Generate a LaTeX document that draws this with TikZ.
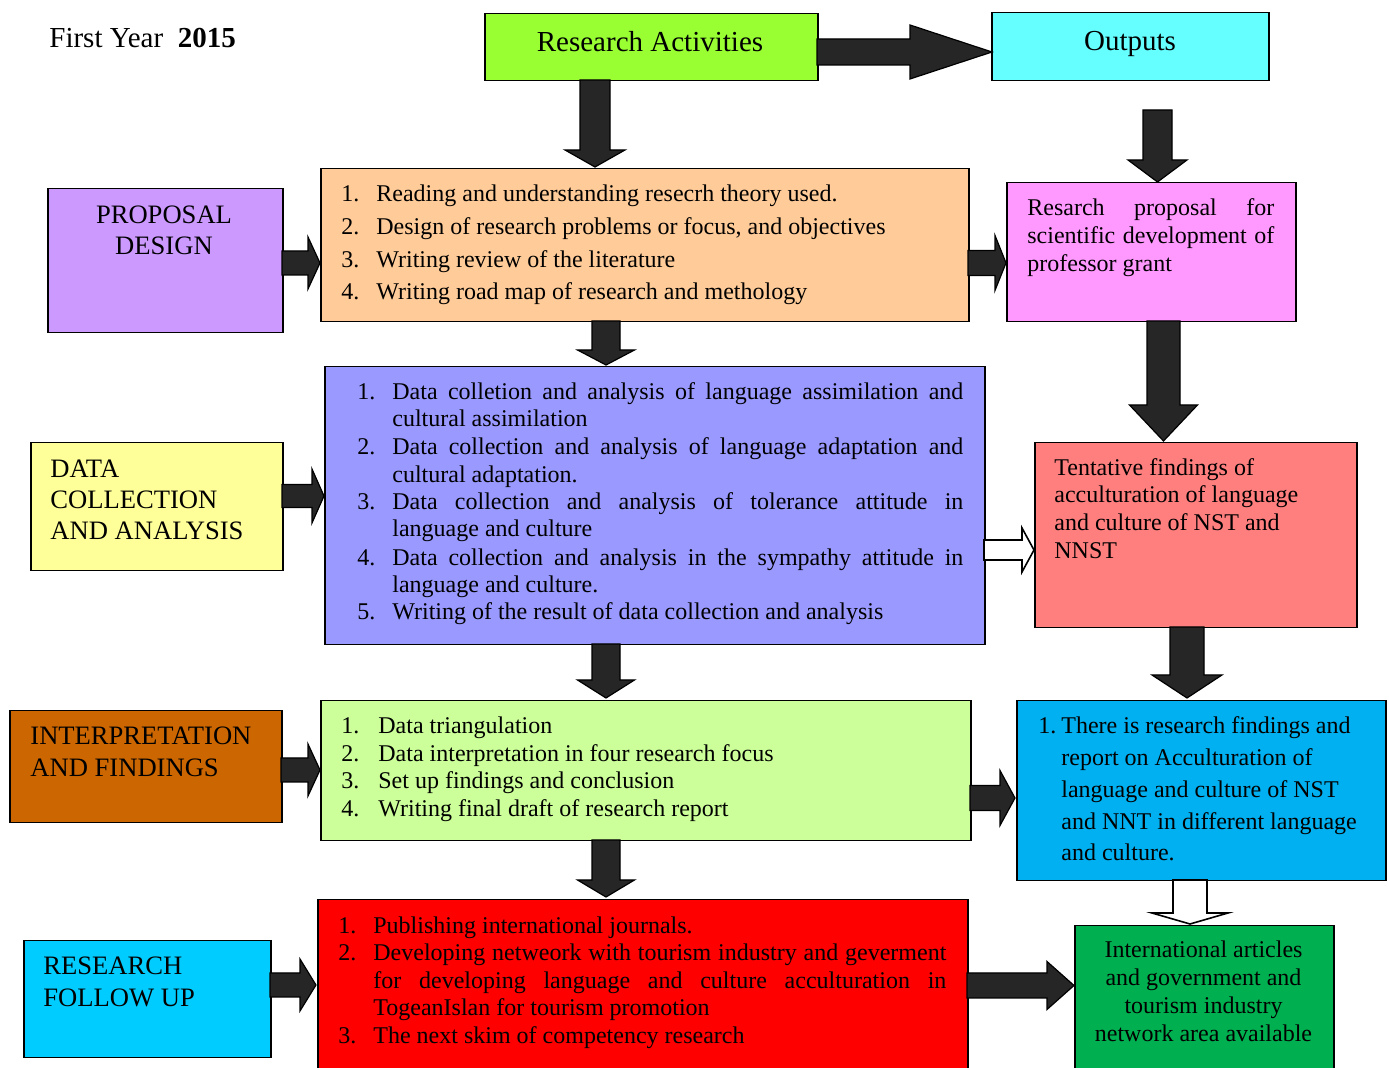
\documentclass[tikz,border=0pt]{standalone}
\usepackage{fontspec}
\setmainfont{Liberation Serif}
\definecolor{cRA}{RGB}{153,255,51}
\definecolor{cOut}{RGB}{102,255,255}
\definecolor{cProp}{RGB}{255,204,153}
\definecolor{cPD}{RGB}{204,153,255}
\definecolor{cPink}{RGB}{255,153,255}
\definecolor{cData}{RGB}{153,153,255}
\definecolor{cYel}{RGB}{255,255,153}
\definecolor{cTent}{RGB}{255,127,127}
\definecolor{cInt}{RGB}{204,255,153}
\definecolor{cOra}{RGB}{204,102,0}
\definecolor{cBlue}{RGB}{0,176,240}
\definecolor{cRed}{RGB}{255,0,0}
\definecolor{cFol}{RGB}{0,204,255}
\definecolor{cGreen}{RGB}{0,176,80}
\definecolor{arrowgray}{RGB}{38,38,38}
\tikzset{
  box/.style={draw=black, line width=0.75pt, inner sep=0pt, anchor=north west},
  txt/.style={anchor=base west, inner sep=0pt, font=\fontsize{12}{14}\selectfont},
  ctxt/.style={anchor=base, inner sep=0pt, font=\fontsize{12}{14}\selectfont},
  ttl/.style={anchor=base, inner sep=0pt, font=\fontsize{14.5}{17}\selectfont},
  side/.style={anchor=base west, inner sep=0pt, font=\fontsize{13.3}{16}\selectfont},
  blk/.style={fill=arrowgray, draw=black, line width=0.6pt, line join=miter},
  wht/.style={fill=white, draw=black, line width=0.8pt, line join=miter}
}
\newcommand{\bx}[6]{\node[box, fill=#2, minimum width={(#5-#3)*0.5pt}, minimum height={(#6-#4)*0.5pt}] (#1) at (#3,#4) {};}
\newcommand{\harr}[7]{\draw[#1] (#2,{#4-#5}) -- (#7,{#4-#5}) -- (#7,{#4-#6}) -- (#3,#4) -- (#7,{#4+#6}) -- (#7,{#4+#5}) -- (#2,{#4+#5}) -- cycle;}
\newcommand{\varr}[7]{\draw[#1] ({#2-#5},#3) -- ({#2-#5},#7) -- ({#2-#6},#7) -- (#2,#4) -- ({#2+#6},#7) -- ({#2+#5},#7) -- ({#2+#5},#3) -- cycle;}
\newcommand{\jl}[2]{\makebox[#1][s]{#2}}
\begin{document}
\begin{tikzpicture}[x=0.5pt,y=-0.5pt]
\useasboundingbox[fill=white] (0,0) rectangle (1389,1068);
% boxes
\bx{ra}{cRA}{484}{13}{817}{80}
\bx{out}{cOut}{991}{12}{1268}{80}
\bx{prop}{cProp}{320}{168}{968}{321}
\bx{pd}{cPD}{47}{188}{282}{332}
\bx{pink}{cPink}{1006}{182}{1295}{321}
\bx{data}{cData}{324}{366}{984}{644}
\bx{dc}{cYel}{30}{442}{282}{570}
\bx{tent}{cTent}{1034}{442}{1356}{627}
\bx{interp}{cInt}{320}{700}{970}{840}
\bx{inf}{cOra}{9}{710}{281}{822}
\bx{blue}{cBlue}{1016}{700}{1385}{880}
\bx{red}{cRed}{317}{899}{967}{1074}
\bx{fol}{cFol}{23}{940}{270}{1057}
\bx{green}{cGreen}{1074}{925}{1333}{1074}
% arrows
\harr{blk}{817}{992}{52}{13}{27}{910}
\varr{blk}{595}{80}{167}{15}{30}{150}
\varr{blk}{1157.5}{110}{182}{14.5}{29.5}{160}
\harr{blk}{282}{320}{263}{12}{26}{308}
\harr{blk}{968}{1006}{263}{12.5}{27.5}{995}
\varr{blk}{1163.5}{321}{441}{16.5}{34}{405}
\varr{blk}{606}{321}{365}{14}{28.5}{350}
\harr{blk}{282}{324}{496}{11.5}{27}{312}
\harr{wht}{984}{1034}{550}{10}{22}{1022}
\varr{blk}{1187}{627}{698}{17}{35}{675}
\varr{blk}{606}{644}{698}{14}{28.5}{680}
\harr{blk}{281}{320}{770}{12}{26}{308}
\harr{blk}{970}{1015}{798}{12.5}{27.5}{1000}
\varr{blk}{606}{840}{897}{14}{28.5}{880}
\harr{blk}{270}{316}{985}{12}{26}{300}
\harr{blk}{967}{1074}{985.5}{12.5}{24}{1047}
\varr{wht}{1190}{880}{924}{17}{38}{913}
\begin{scope}[yshift=-1pt]
% title texts
\node[ttl, anchor=base west] (fy) at (49,46) {First Year\ \ \textbf{2015}};
\node[ttl] (rat) at (650,50) {Research Activities};
\node[ttl] (outt) at (1130,49) {Outputs};
% proposal design
\node[side, anchor=base] (pd1) at (164,222) {PROPOSAL};
\node[side, anchor=base] (pd2) at (164,253) {DESIGN};
% proposal list
\node[txt] (p1n) at (341,200) {1.};
\node[txt] (p1t) at (376,200) {Reading and understanding resecrh theory used.};
\node[txt] (p2n) at (341,233) {2.};
\node[txt] (p2t) at (376,233) {Design of research problems or focus, and objectives};
\node[txt] (p3n) at (341,266) {3.};
\node[txt] (p3t) at (376,266) {Writing review of the literature};
\node[txt] (p4n) at (341,298) {4.};
\node[txt] (p4t) at (376,298) {Writing road map of research and methology};
% pink
\node[txt] (k1) at (1027,214) {\jl{123.5pt}{Resarch proposal for}};
\node[txt] (k2) at (1027,242) {\jl{123.5pt}{scientific development of}};
\node[txt] (k3) at (1027,270) {professor grant};
% data collection label
\node[side] (dc1) at (50,476) {DATA};
\node[side] (dc2) at (50,507) {COLLECTION};
\node[side] (dc3) at (50,538) {AND ANALYSIS};
% data list
\node[txt] (d1n) at (357,398) {1.};
\node[txt] (d1a) at (392,398) {\jl{285.5pt}{Data colletion and analysis of language assimilation and}};
\node[txt] (d1b) at (392,425) {cultural assimilation};
\node[txt] (d2n) at (357,453) {2.};
\node[txt] (d2a) at (392,453) {\jl{285.5pt}{Data collection and analysis of language adaptation and}};
\node[txt] (d2b) at (392,481) {cultural adaptation.};
\node[txt] (d3n) at (357,508) {3.};
\node[txt] (d3a) at (392,508) {\jl{285.5pt}{Data collection and analysis of tolerance attitude in}};
\node[txt] (d3b) at (392,535) {language and culture};
\node[txt] (d4n) at (357,564) {4.};
\node[txt] (d4a) at (392,564) {\jl{285.5pt}{Data collection and analysis in the sympathy attitude in}};
\node[txt] (d4b) at (392,591) {language and culture.};
\node[txt] (d5n) at (357,618) {5.};
\node[txt] (d5a) at (392,618) {Writing of the result of data collection and analysis};
% tentative
\node[txt] (t1) at (1054,474) {Tentative findings of};
\node[txt] (t2) at (1054,501) {acculturation of language};
\node[txt] (t3) at (1054,529) {and culture of NST and};
\node[txt] (t4) at (1054,557) {NNST};
% interpretation label
\node[side] (if1) at (30,743) {INTERPRETATION};
\node[side] (if2) at (30,775) {AND FINDINGS};
% interp list
\node[txt] (i1n) at (341,732) {1.};
\node[txt] (i1t) at (378,732) {Data triangulation};
\node[txt] (i2n) at (341,760) {2.};
\node[txt] (i2t) at (378,760) {Data interpretation in four research focus};
\node[txt] (i3n) at (341,787) {3.};
\node[txt] (i3t) at (378,787) {Set up findings and conclusion};
\node[txt] (i4n) at (341,815) {4.};
\node[txt] (i4t) at (378,815) {Writing final draft of research report};
% blue
\node[txt] (b1n) at (1038,732) {1.};
\node[txt] (b1) at (1061,732) {There is research findings and};
\node[txt] (b2) at (1061,764) {report on Acculturation of};
\node[txt] (b3) at (1061,796) {language and culture of NST};
\node[txt] (b4) at (1061,828) {and NNT in different language};
\node[txt] (b5) at (1061,859) {and culture.};
% follow up label
\node[side] (fu1) at (43,973) {RESEARCH};
\node[side] (fu2) at (43,1005) {FOLLOW UP};
% red list
\node[txt] (r1n) at (338,932) {1.};
\node[txt] (r1t) at (373,932) {Publishing international journals.};
\node[txt] (r2n) at (338,959) {2.};
\node[txt] (r2a) at (373,959) {\jl{286.5pt}{Developing netweork with tourism industry and geverment}};
\node[txt] (r2b) at (373,987) {\jl{286.5pt}{for developing language and culture acculturation in}};
\node[txt] (r2c) at (373,1014) {TogeanIslan for tourism promotion};
\node[txt] (r3n) at (338,1042) {3.};
\node[txt] (r3t) at (373,1042) {The next skim of competency research};
% green
\node[ctxt] (g1) at (1203.5,956) {International articles};
\node[ctxt] (g2) at (1203.5,984) {and government and};
\node[ctxt] (g3) at (1203.5,1012) {tourism industry};
\node[ctxt] (g4) at (1203.5,1040) {network area available};
\end{scope}
\end{tikzpicture}
\end{document}
